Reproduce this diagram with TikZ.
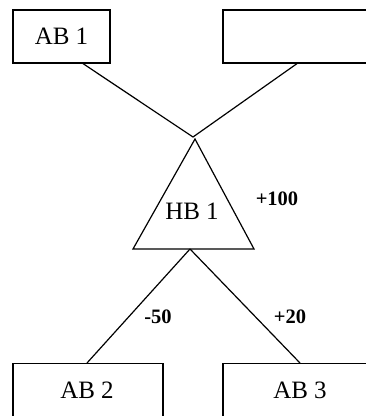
\documentclass[tikz,border=0pt]{standalone}
\usepackage{fontspec}
\setmainfont{Liberation Serif}
\begin{document}
\begin{tikzpicture}[x=1pt,y=-1pt,
  box/.style={draw,line width=1.2pt,inner sep=0pt,font=\fontsize{25}{28}\selectfont},
  lbl/.style={font=\bfseries\fontsize{20.5}{23}\selectfont,inner sep=0pt},
  conn/.style={line width=1.2pt}]
\useasboundingbox (0,0) rectangle (366,416);
\node[box,minimum width=97pt,minimum height=53pt] (ab1) at (61.5,36.5) {AB 1};
\node[box,minimum width=154pt,minimum height=53pt] (rb) at (300,36.5) {};
\coordinate (tt) at (195,139);
\coordinate (tl) at (133,249);
\coordinate (tr) at (254,249);
\coordinate (meet) at (193,137);
\coordinate (bot) at (190,249);
\draw[conn,line join=miter] (tt) -- (tl) -- (tr) -- cycle;
\node[font=\fontsize{25}{28}\selectfont,inner sep=0pt] (hb) at (192,211) {HB 1};
\node[box,minimum width=150pt,minimum height=60pt,anchor=north] (ab2) at (88,363) {};
\node[font=\fontsize{25}{28}\selectfont,inner sep=0pt] (ab2t) at (87,390) {AB 2};
\node[box,minimum width=154pt,minimum height=60pt,anchor=north] (ab3) at (300,363) {};
\node[font=\fontsize{25}{28}\selectfont,inner sep=0pt] (ab3t) at (300,390) {AB 3};
\draw[conn] ([xshift=21.5pt]ab1.south) -- (meet) -- ([xshift=-3pt]rb.south);
\draw[conn] (bot) -- ([xshift=-1pt]ab2.north);
\draw[conn] (bot) -- (ab3.north);
\node[lbl] (l100) at (277,199) {+100};
\node[lbl] (l50) at (158,317) {-50};
\node[lbl] (l20) at (290,317) {+20};
\end{tikzpicture}
\end{document}
